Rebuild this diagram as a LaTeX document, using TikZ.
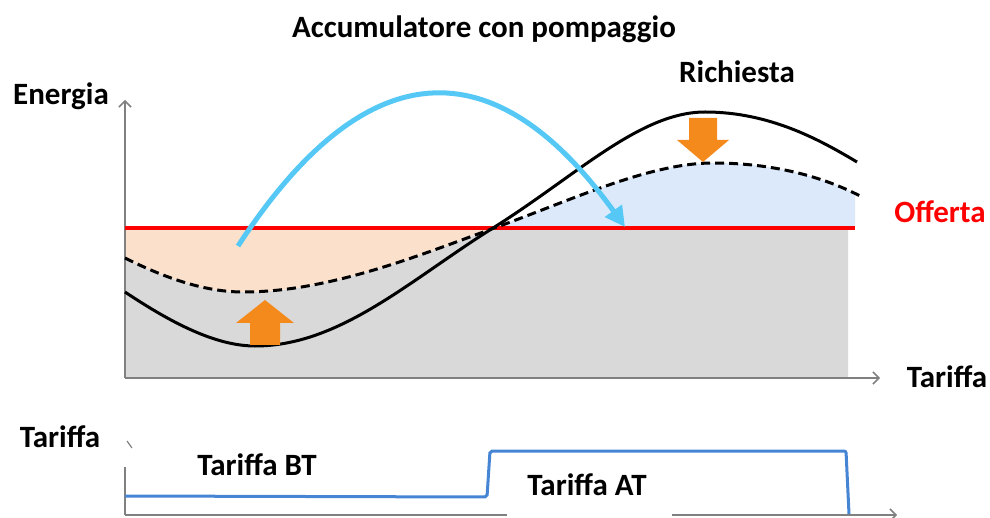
\documentclass[tikz,border=0pt]{standalone}
\usepackage{fontspec}
\setmainfont{Carlito}
\usetikzlibrary{arrows.meta}
\definecolor{grayfill}{RGB}{217,217,217}
\definecolor{peach}{RGB}{251,225,203}
\definecolor{paleblue}{RGB}{220,233,250}
\definecolor{axisgray}{RGB}{128,128,128}
\definecolor{orangearr}{RGB}{245,138,28}
\definecolor{skyblue}{RGB}{85,200,245}
\definecolor{stepblue}{RGB}{70,132,212}
\begin{document}
\begin{tikzpicture}[x=1pt,y=-1pt,
  lbl/.style={font=\fontsize{31}{37}\selectfont\bfseries, anchor=base, inner sep=0pt},
  axisline/.style={draw=axisgray, line width=1.5pt},
  axisarrow/.style={axisline, -{Straight Barb[length=6pt,width=12pt,line width=1.5pt]}},
  demand/.style={draw=black, line width=3pt},
  shifted/.style={draw=black, line width=3pt, dash pattern=on 9pt off 5pt},
  offer/.style={draw=red, line width=3.5pt},
  blockarrow/.style={fill=orangearr, draw=none},
  pumparrow/.style={draw=skyblue, line width=5pt, -{Triangle[length=20pt,width=20pt]}},
  stepline/.style={draw=stepblue, line width=3pt, rounded corners=2pt}]
\useasboundingbox (0,0) rectangle (990,518);

% gray area (below red line and below dashed curve)
\begin{scope}
  \clip (125,228) rectangle (848,378);
  \fill[grayfill] (125,258) .. controls (165,278) and (205,292) .. (243,292)
    .. controls (330,292) and (420,255) .. (497,227)
    .. controls (574,199) and (650,163) .. (713,163)
    .. controls (780,163) and (830,180) .. (862,197)
    -- (862,378) -- (125,378) -- cycle;
\end{scope}
% peach area: below red line, above dashed curve
\begin{scope}
  \clip (125,228) rectangle (848,378);
  \fill[peach] (125,258) .. controls (165,278) and (205,292) .. (243,292)
    .. controls (330,292) and (420,255) .. (497,227)
    .. controls (574,199) and (650,163) .. (713,163)
    .. controls (780,163) and (830,180) .. (862,197)
    -- (862,0) -- (125,0) -- cycle;
\end{scope}
% pale blue area: above red line, below dashed curve
\begin{scope}
  \clip (125,140) rectangle (855,228);
  \fill[paleblue] (125,258) .. controls (165,278) and (205,292) .. (243,292)
    .. controls (330,292) and (420,255) .. (497,227)
    .. controls (574,199) and (650,163) .. (713,163)
    .. controls (780,163) and (830,180) .. (862,197)
    -- (862,378) -- (125,378) -- cycle;
\end{scope}

% axes of the upper chart
\coordinate (o1) at (125,378);
\coordinate (ytop) at (125,100);
\coordinate (xend) at (880,378);
\draw[axisarrow] (o1) -- (ytop);
\draw[axisarrow] (o1) -- (xend);

% offer line
\coordinate (r1) at (125,228);
\coordinate (r2) at (855,228);
\draw[offer] (r1) -- (r2);

% demand curve and shifted demand
\draw[demand] (125,292) .. controls (170,322) and (215,346) .. (255,346)
  .. controls (340,346) and (410,280) .. (493,228)
  .. controls (576,176) and (640,112) .. (705,112)
  .. controls (770,112) and (820,140) .. (857,162);
\draw[shifted] (125,258) .. controls (165,278) and (205,292) .. (243,292)
  .. controls (330,292) and (420,255) .. (497,227)
  .. controls (574,199) and (650,163) .. (713,163)
  .. controls (780,163) and (830,180) .. (862,197);

% orange block arrows
\fill[blockarrow] (250,345) -- (250,323) -- (236,323) -- (265,300) -- (294,323) -- (280,323) -- (280,345) -- cycle;
\fill[blockarrow] (689,118) -- (717,118) -- (717,140) -- (729,140) -- (703,162) -- (677,140) -- (689,140) -- cycle;

% pumping arrow
\coordinate (ps) at (238,246);
\coordinate (pe) at (625,227);
\draw[pumparrow] (ps) .. controls (365,51) and (494,45) .. (pe);

% labels upper chart
\node[lbl] (title) at (484,38) {Accumulatore con pompaggio};
\node[lbl] (energia) at (61,105) {Energia};
\node[lbl] (richiesta) at (737,83) {Richiesta};
\node[lbl, text=red] (offerta) at (940,223) {Offerta};
\node[lbl] (tarx) at (947,387) {Tariffa};

% lower chart
\coordinate (o2) at (125,515);
\coordinate (x2end) at (897,515);
\coordinate (y2top) at (125,467);
\draw[axisarrow] (o2) -- (x2end);
\draw[axisline] (o2) -- (y2top);
\draw[draw=axisgray, line width=1.2pt] (127,441) -- (132,448);
\fill[white] (507,506) rectangle (672,518);
\draw[stepline] (125,496) -- (487,497) -- (490,451) -- (846,451) -- (849,514);

\node[lbl] (tary) at (60,447) {Tariffa};
\node[lbl] (bt) at (257,475) {Tariffa BT};
\node[lbl] (at) at (587,495) {Tariffa AT};
\end{tikzpicture}
\end{document}
